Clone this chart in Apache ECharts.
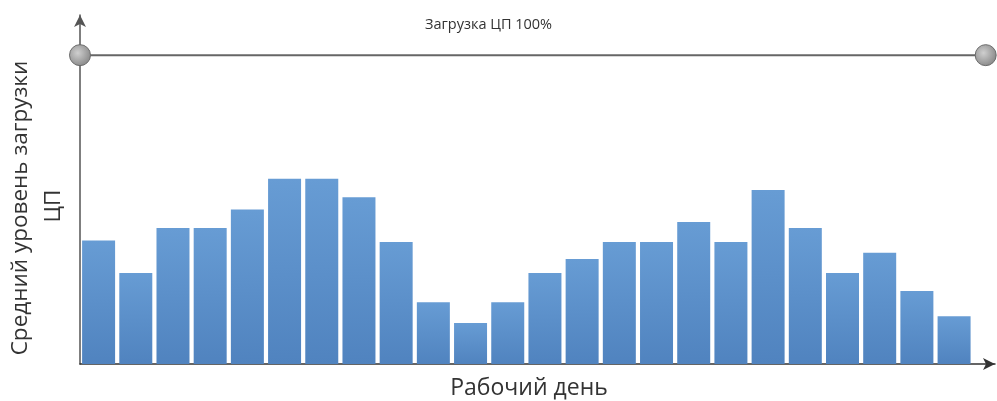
<!DOCTYPE html>
<html lang="ru">
<head>
    <meta charset="UTF-8" />
    <title>Загрузка ЦП</title>
    <script src="https://cdn.jsdelivr.net/npm/echarts@6/dist/echarts.min.js"></script>
</head>
<body style="margin:0;">
<div id="main" style="width: 997px; height: 401px;"></div>
<script type="text/javascript">
    // часы рабочего дня (позиция столбца) и средняя загрузка, %
    var slots = [0.5, 1.5, 2.5, 3.5, 4.5, 5.5, 6.5, 7.5, 8.5, 9.5, 10.5, 11.5,
                 12.5, 13.5, 14.5, 15.5, 16.5, 17.5, 18.5, 19.5, 20.5, 21.5, 22.5, 23.5];
    var load = [40, 29.5, 44, 44, 50, 60, 60, 54, 39.5, 20, 13.3, 20,
                29.5, 34, 39.5, 39.5, 46, 39.5, 56.3, 44, 29.5, 36, 23.6, 15.5];
    // линия 100%
    var limitX = [0, 24.35];
    var limitY = 100;

    var myChart = echarts.init(document.getElementById('main'));

    var barData = [];
    for (var i = 0; i < slots.length; i++) {
        barData.push([slots[i], load[i]]);
    }

    var option = {
        animation: false,
        title: {
            text: 'Загрузка ЦП 100%',
            left: 420,
            top: 12,
            textStyle: { fontFamily: 'Open Sans', fontSize: 14.5, fontWeight: 'normal', color: '#333' }
        },
        grid: { left: 80, right: 2, top: 15, bottom: 37 },
        xAxis: {
            type: 'value',
            min: 0,
            max: 24.6,
            axisLine: {
                show: true,
                symbol: ['none', 'arrow'],
                symbolSize: [9, 12],
                lineStyle: { color: '#333', width: 1.5 }
            },
            axisTick: { show: false },
            axisLabel: { show: false },
            splitLine: { show: false }
        },
        yAxis: {
            type: 'value',
            min: 0,
            max: 113,
            axisLine: {
                show: true,
                symbol: ['none', 'arrow'],
                symbolSize: [9, 12],
                lineStyle: { color: '#555', width: 1.5 }
            },
            axisTick: { show: false },
            axisLabel: { show: false },
            splitLine: { show: false }
        },
        graphic: [
            {
                type: 'text',
                x: 21, y: 208, rotation: Math.PI / 2,
                style: {
                    text: 'Средний уровень загрузки',
                    fill: '#333', font: '22.5px "Open Sans"',
                    align: 'center', verticalAlign: 'middle'
                }
            },
            {
                type: 'text',
                x: 54, y: 206, rotation: Math.PI / 2,
                style: {
                    text: 'ЦП',
                    fill: '#333', font: '22.5px "Open Sans"',
                    align: 'center', verticalAlign: 'middle'
                }
            },
            {
                type: 'text',
                x: 529, y: 388,
                style: {
                    text: 'Рабочий день',
                    fill: '#333', font: '23px "Open Sans"',
                    align: 'center', verticalAlign: 'middle'
                }
            }
        ],
        series: [
            {
                type: 'bar',
                data: barData,
                barWidth: 33,
                itemStyle: {
                    color: new echarts.graphic.LinearGradient(0, 0, 0, 1, [
                        { offset: 0, color: '#679cd4' },
                        { offset: 1, color: '#5083bf' }
                    ])
                }
            },
            {
                type: 'line',
                data: [[limitX[0], limitY], [limitX[1], limitY]],
                symbol: 'circle',
                symbolSize: 21,
                z: 5,
                lineStyle: { color: '#666', width: 2 },
                itemStyle: {
                    color: new echarts.graphic.RadialGradient(0.4, 0.4, 0.7, [
                        { offset: 0, color: '#cfcfcf' },
                        { offset: 1, color: '#808080' }
                    ]),
                    borderColor: '#6a6a6a',
                    borderWidth: 1
                }
            }
        ]
    };

    myChart.setOption(option);
</script>
</body>
</html>
